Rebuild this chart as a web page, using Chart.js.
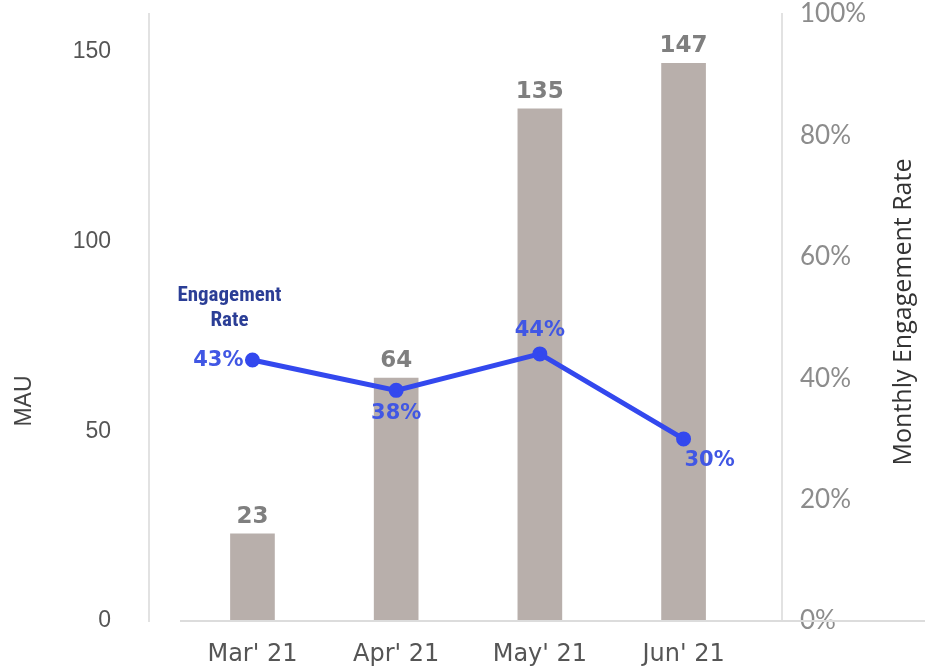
<!DOCTYPE html>
<html>
<head>
<meta charset="utf-8">
<script src="https://cdn.jsdelivr.net/npm/chart.js@4.4.1/dist/chart.umd.min.js"></script>
<style>
  html, body { margin: 0; padding: 0; background: #fff; }
  #wrap { width: 925px; height: 668px; }
</style>
</head>
<body>
<div id="wrap"><canvas id="myChart" width="925" height="668"></canvas></div>
<script>
const months = ["Mar' 21", "Apr' 21", "May' 21", "Jun' 21"];
const mau = [23, 64, 135, 147];
const engagement = [43, 38, 44, 30];
const mauTicks = [0, 50, 100, 150];
const rateTicks = [0, 20, 40, 60, 80, 100];

// where each % label sits relative to its point
const rateLabelSide = ['left', 'below', 'above', 'belowRight'];

const BLUE = '#3348ee';
const BAR = '#b8afab';

// fixed axis sizes, and no extra padding from the tick labels
const fixSize = (w, h) => (s) => {
  if (w) s.width = w;
  if (h) s.height = h;
  s.paddingTop = 0;
  s.paddingBottom = 0;
  s.paddingLeft = 0;
  s.paddingRight = 0;
};

// value labels, axis titles, the baseline and the "Engagement Rate" note
const labels = {
  id: 'labels',
  afterDraw(chart) {
    const ctx = chart.ctx;
    const area = chart.chartArea;
    ctx.save();

    // baseline
    ctx.strokeStyle = '#dcdcdc';
    ctx.lineWidth = 2;
    ctx.beginPath();
    ctx.moveTo(180, area.bottom);
    ctx.lineTo(chart.width, area.bottom);
    ctx.stroke();

    // bar values
    ctx.font = 'bold 23px "DejaVu Sans"';
    ctx.fillStyle = '#7f7f7f';
    ctx.textAlign = 'center';
    ctx.textBaseline = 'middle';
    chart.getDatasetMeta(1).data.forEach((bar, i) => {
      ctx.fillText(String(mau[i]), bar.x, bar.y - 17);
    });

    // engagement values
    ctx.font = 'bold 21px "DejaVu Sans"';
    ctx.fillStyle = '#4157e4';
    chart.getDatasetMeta(0).data.forEach((pt, i) => {
      const txt = engagement[i] + '%';
      const side = rateLabelSide[i];
      if (side === 'left') {
        ctx.textAlign = 'right';
        ctx.fillText(txt, pt.x - 9, pt.y + 1);
      } else if (side === 'below') {
        ctx.textAlign = 'center';
        ctx.fillText(txt, pt.x, pt.y + 23);
      } else if (side === 'above') {
        ctx.textAlign = 'center';
        ctx.fillText(txt, pt.x, pt.y - 23);
      } else {
        ctx.textAlign = 'center';
        ctx.fillText(txt, pt.x + 26, pt.y + 22);
      }
    });

    // note above the first point
    const p0 = chart.getDatasetMeta(0).data[0];
    ctx.fillStyle = '#2b3e96';
    ctx.textAlign = 'center';
    ctx.font = 'bold 21px "Liberation Sans Narrow", "Roboto Condensed", Roboto';
    ctx.fillText('Engagement', p0.x - 23, p0.y - 64);
    ctx.fillText('Rate', p0.x - 23, p0.y - 39);

    // axis titles, both read bottom to top
    ctx.fillStyle = '#444';
    ctx.font = '23px "Liberation Sans"';
    ctx.save();
    ctx.translate(25, 401);
    ctx.rotate(-Math.PI / 2);
    ctx.fillText('MAU', 0, 0);
    ctx.restore();

    ctx.fillStyle = '#333';
    ctx.font = '25px "Open Sans"';
    ctx.save();
    ctx.translate(904, 312);
    ctx.rotate(-Math.PI / 2);
    ctx.fillText('Monthly Engagement Rate', 0, 0);
    ctx.restore();

    ctx.restore();
  }
};

const ctx = document.getElementById('myChart');

const config = {
  data: {
    datasets: [
      {
        type: 'line',
        label: 'Engagement Rate',
        data: engagement.map((v, i) => ({ x: i, y: v })),
        yAxisID: 'y1',
        borderColor: BLUE,
        backgroundColor: BLUE,
        borderWidth: 5,
        pointRadius: 5,
        pointHoverRadius: 5,
        tension: 0,
        order: 0
      },
      {
        type: 'bar',
        label: 'MAU',
        data: mau.map((v, i) => ({ x: i, y: v })),
        yAxisID: 'y',
        backgroundColor: BAR,
        barThickness: 44,
        order: 1
      }
    ]
  },
  options: {
    responsive: false,
    animation: false,
    events: [],
    layout: { autoPadding: false, padding: { top: 14, left: 0, right: 0, bottom: 0 } },
    plugins: { legend: { display: false }, tooltip: { enabled: false } },
    scales: {
      x: {
        type: 'linear',
        offset: false,
        min: -0.72,
        max: 3.685,
        grid: { display: false, drawTicks: false },
        border: { display: false },
        afterBuildTicks: (s) => { s.ticks = months.map((m, i) => ({ value: i })); },
        afterFit: fixSize(0, 47),
        ticks: {
          padding: 19,
          autoSkip: false,
          maxRotation: 0,
          color: '#555',
          font: { family: 'DejaVu Sans', size: 24 },
          callback: (v) => months[v]
        }
      },
      y: {
        position: 'left',
        min: 0,
        max: 160,
        grid: { display: false, drawTicks: false },
        border: { display: true, color: '#e2e2e2', width: 2 },
        afterBuildTicks: (s) => { s.ticks = mauTicks.map(v => ({ value: v })); },
        afterFit: fixSize(149, 0),
        ticks: {
          padding: 38,
          color: '#555',
          font: { family: 'Liberation Sans', size: 23 }
        }
      },
      y1: {
        position: 'right',
        min: 0,
        max: 100,
        grid: { display: false, drawTicks: false },
        border: { display: true, color: '#e2e2e2', width: 2 },
        afterBuildTicks: (s) => { s.ticks = rateTicks.map(v => ({ value: v })); },
        afterFit: fixSize(143, 0),
        ticks: {
          padding: 18,
          color: '#8c8c8c',
          font: { family: 'Lato', size: 26 },
          callback: (v) => v + '%'
        }
      }
    }
  },
  plugins: [labels]
};

const chart = new Chart(ctx, config);
</script>
</body>
</html>
